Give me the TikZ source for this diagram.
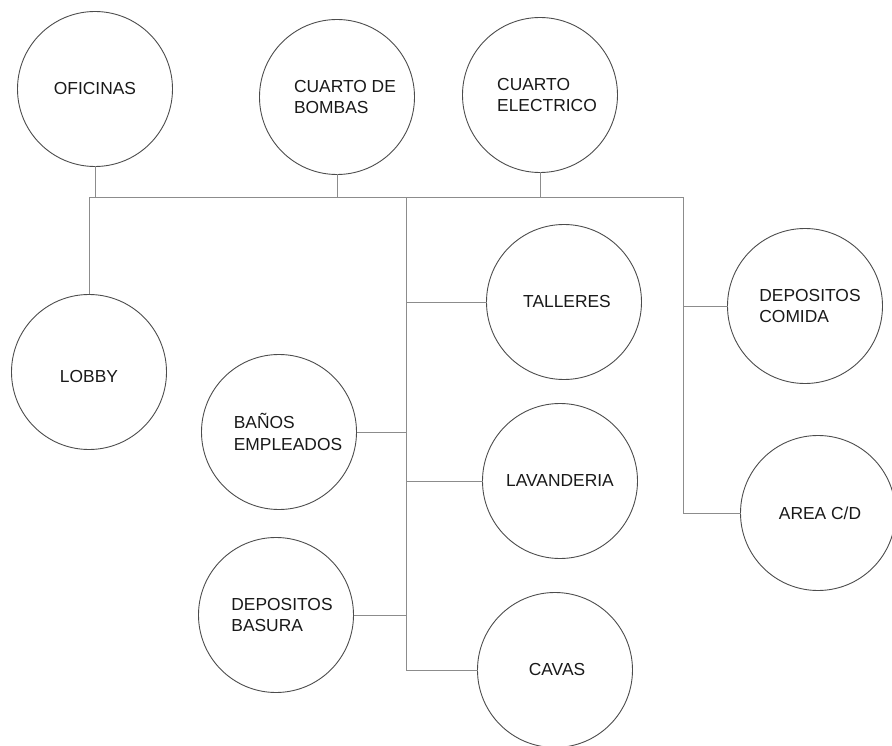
\documentclass[tikz,border=0pt]{standalone}
\usepackage{fontspec}
\setmainfont{Liberation Sans}
\begin{document}
\begin{tikzpicture}[x=1pt,y=-1pt,
  room/.style={draw=black!70,line width=0.9pt,circle,minimum size=155pt,inner sep=0pt,outer sep=0pt,
    align=left,text=black!90,font=\fontsize{17.4}{21.5}\selectfont},
  link/.style={draw=black!45,line width=1pt}]
\useasboundingbox (0,0) rectangle (892,746);
% circles
\node[room] (ofi) at (95,89) {OFICINAS};
\node[room] (bom) at (337,97) {\hspace*{16pt}CUARTO DE\\\hspace*{16pt}BOMBAS};
\node[room] (ele) at (540,95) {\hspace*{14pt}CUARTO\\\hspace*{14pt}ELECTRICO};
\node[room] (lob) at (89,372) {\smash{\raisebox{-10pt}{LOBBY}}};
\node[room] (tal) at (564,302) {\hspace*{6pt}TALLERES};
\node[room] (com) at (805,306) {\hspace*{10pt}DEPOSITOS\\\hspace*{10pt}COMIDA};
\node[room] (ban) at (279,432) {\hspace*{18pt}BAÑOS\\\hspace*{18pt}EMPLEADOS};
\node[room] (lav) at (560,481) {LAVANDERIA};
\node[room] (acd) at (818,513) {\hspace*{4pt}AREA C/D};
\node[room] (bas) at (276,615) {\hspace*{12pt}DEPOSITOS\\\hspace*{12pt}BASURA};
\node[room] (cav) at (555,670) {\hspace*{4pt}CAVAS};
% junction points
\coordinate (hL) at (89,198);
\coordinate (hR) at (683,198);
\coordinate (tT) at (406,198);
\coordinate (tB) at (406,670);
% connectors
\draw[link] (ofi.south) -- (ofi.south |- hL);
\draw[link] (bom.south) -- (bom.south |- hL);
\draw[link] (ele.south) -- (ele.south |- hL);
\draw[link] (lob.north) -- (hL) -- (hR) -- (hR |- acd.west) -- (acd.west);
\draw[link] (hR |- com.west) -- (com.west);
\draw[link] (tT) -- (tB) -- (cav.west);
\draw[link] (tT |- tal.west) -- (tal.west);
\draw[link] (tT |- lav.west) -- (lav.west);
\draw[link] (ban.east) -- (tT |- ban.east);
\draw[link] (bas.east) -- (tT |- bas.east);
\end{tikzpicture}
\end{document}
